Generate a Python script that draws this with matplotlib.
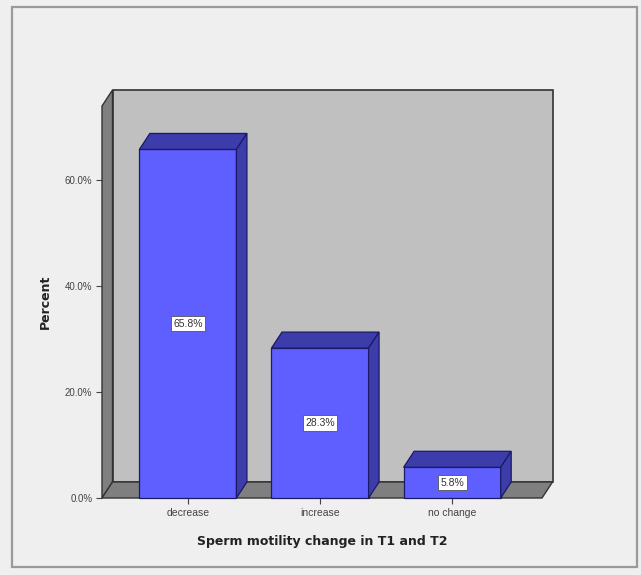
import matplotlib.pyplot as plt
from matplotlib.patches import Polygon, Rectangle

categories = ["decrease", "increase", "no change"]
percents = [65.8, 28.3, 5.8]
value_labels = ["65.8%", "28.3%", "5.8%"]
yticks = [0, 20, 40, 60]
ytick_labels = ["0.0%", "20.0%", "40.0%", "60.0%"]

W, H = 641, 575
fig = plt.figure(figsize=(W / 100, H / 100), dpi=100)
fig.patch.set_facecolor("#efefef")

# outer frame like the SPSS output window
fig.patches.append(Rectangle((12 / W, 8 / H), 625 / W, 560 / H, transform=fig.transFigure,
                             fill=False, edgecolor="#9a9a9a", linewidth=1.6))

x0, x1 = -0.65, 2.68
ytop = 74
ax = fig.add_axes([102 / W, 77 / H, 440 / W, 392 / H])
ax.set_xlim(x0, x1)
ax.set_ylim(0, ytop)
ax.patch.set_visible(False)
for s in ax.spines.values():
    s.set_visible(False)

# depth offset of the pseudo-3D look, in pixels -> data units
dpx, dpy = 10.5, 16
ddx = dpx * (x1 - x0) / 440
ddy = dpy * ytop / 392

edge = "#333333"
# back wall, left wall and floor
ax.add_patch(Polygon([(x0 + ddx, ddy), (x1 + ddx, ddy), (x1 + ddx, ytop + ddy), (x0 + ddx, ytop + ddy)],
                     closed=True, facecolor="#c0c0c0", edgecolor=edge, lw=1.2, clip_on=False, zorder=1))
ax.add_patch(Polygon([(x0, 0), (x0 + ddx, ddy), (x0 + ddx, ytop + ddy), (x0, ytop)],
                     closed=True, facecolor="#808080", edgecolor=edge, lw=1.0, clip_on=False, zorder=2))
ax.add_patch(Polygon([(x0, 0), (x1, 0), (x1 + ddx, ddy), (x0 + ddx, ddy)],
                     closed=True, facecolor="#7f7f7f", edgecolor=edge, lw=1.0, clip_on=False, zorder=2))

bw = 97 / 132
front = "#5f5fff"
dark = "#3c3caa"
bar_edge = "#1a1a66"
for i, v in enumerate(percents):
    l, r = i - bw / 2, i + bw / 2
    ax.add_patch(Rectangle((l, 0), bw, v, facecolor=front, edgecolor=bar_edge, lw=0.9, zorder=3, clip_on=False))
    ax.add_patch(Polygon([(l, v), (r, v), (r + ddx, v + ddy), (l + ddx, v + ddy)], closed=True,
                         facecolor=dark, edgecolor=bar_edge, lw=0.9, zorder=3, clip_on=False))
    ax.add_patch(Polygon([(r, 0), (r + ddx, ddy), (r + ddx, v + ddy), (r, v)], closed=True,
                         facecolor=dark, edgecolor=bar_edge, lw=0.9, zorder=3, clip_on=False))
    ax.text(i, v / 2, value_labels[i], ha="center", va="center", fontsize=7.5, color="#333333",
            family="Liberation Sans", zorder=5,
            bbox=dict(boxstyle="square,pad=0.25", facecolor="white", edgecolor="#555555", lw=0.6))

ax.set_yticks(yticks)
ax.set_yticklabels(ytick_labels, fontsize=7, color="#444444", family="Liberation Sans")
ax.set_xticks(range(len(categories)))
ax.set_xticklabels(categories, fontsize=7.5, color="#444444", family="Liberation Sans")
ax.tick_params(axis="both", length=4, width=0.8, color="#444444", pad=3)

ax.set_ylabel("Percent", fontsize=9, fontweight="bold", color="#222222", labelpad=9)
ax.set_xlabel("Sperm motility change in T1 and T2", fontsize=9, fontweight="bold",
              color="#222222")
ax.xaxis.set_label_coords(0.5, -0.095)

fig.savefig("out.png", dpi=100, facecolor=fig.get_facecolor())
